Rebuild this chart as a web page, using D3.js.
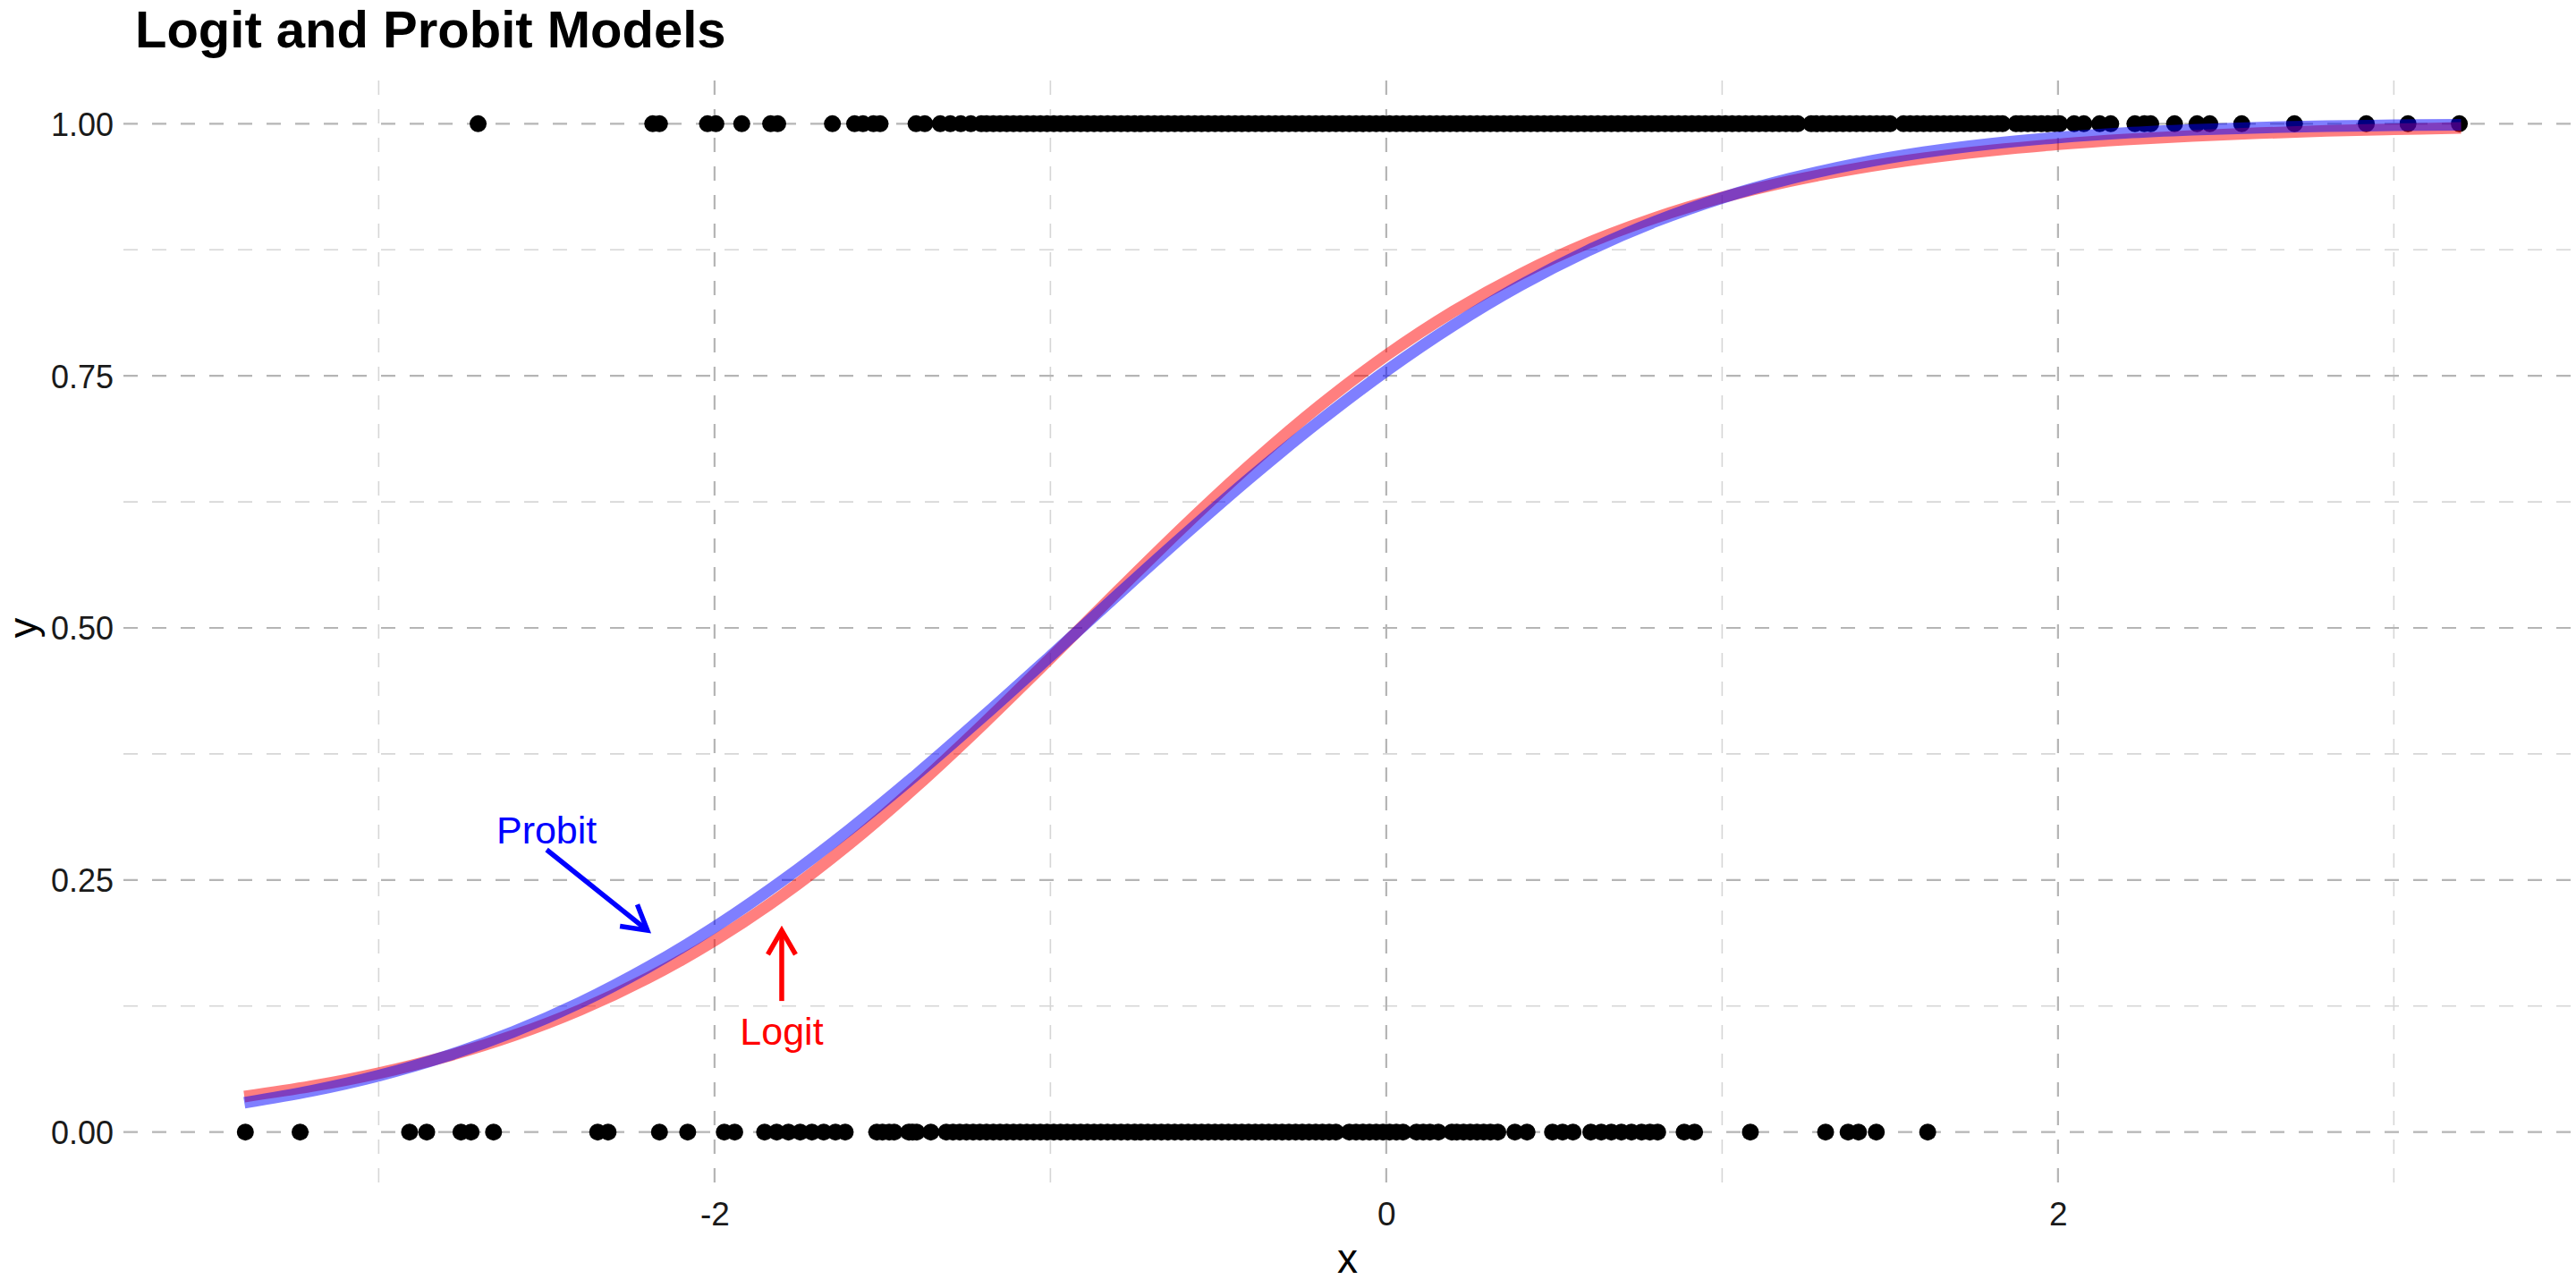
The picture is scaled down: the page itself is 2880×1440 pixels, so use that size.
<!DOCTYPE html>
<html><head><meta charset="utf-8">
<script src="https://cdn.jsdelivr.net/npm/d3@7"></script>
<style>html,body{margin:0;padding:0;background:#fff;} svg{display:block;}</style>
</head><body>
<svg id="chart" width="2880" height="1440"></svg>
<script>
// ---------------- data ----------------
const chartTitle = "Logit and Probit Models";
const xAxisTitle = "x";
const yAxisTitle = "y";
const xDomain = [-3.760, 3.529];
const yDomain = [-0.05, 1.05];
const xTicks = [-2, 0, 2];
const xTickLabels = ["-2", "0", "2"];
const xMinor = [-3, -1, 1, 3];
const yTicks = [0, 0.25, 0.5, 0.75, 1];
const yTickLabels = ["0.00", "0.25", "0.50", "0.75", "1.00"];
const yMinor = [0.125, 0.375, 0.625, 0.875];

// observed points with y = 1
const xOnes = [-2.704, -2.184, -2.164, -2.021, -1.996, -1.919, -1.833, -1.812, -1.649, -1.583, -1.558, -1.527, -1.507,
  -1.400, -1.374, -1.328, -1.298, -1.267, -1.237, -1.206,
  -1.19, -1.17, -1.15, -1.13, -1.11, -1.09, -1.07, -1.05, -1.03, -1.01, -0.99, -0.97, -0.95, -0.93, -0.91, -0.89,
  -0.87, -0.85, -0.83, -0.81, -0.79, -0.77, -0.75, -0.73, -0.71, -0.69, -0.67, -0.65, -0.63, -0.61, -0.59, -0.57,
  -0.55, -0.53, -0.51, -0.49, -0.47, -0.45, -0.43, -0.41, -0.39, -0.37, -0.35, -0.33, -0.31, -0.29, -0.27, -0.25,
  -0.23, -0.21, -0.19, -0.17, -0.15, -0.13, -0.11, -0.09, -0.07, -0.05, -0.03, -0.01, 0.01, 0.03, 0.05, 0.07, 0.09,
  0.11, 0.13, 0.15, 0.17, 0.19, 0.21, 0.23, 0.25, 0.27, 0.29, 0.31, 0.33, 0.35, 0.37, 0.39, 0.41, 0.43, 0.45, 0.47,
  0.49, 0.51, 0.53, 0.55, 0.57, 0.59, 0.61, 0.63, 0.65, 0.67, 0.69, 0.71, 0.73, 0.75, 0.77, 0.79, 0.81, 0.83, 0.85,
  0.87, 0.89, 0.91, 0.93, 0.95, 0.97, 0.99, 1.01, 1.03, 1.05, 1.07, 1.09, 1.11, 1.13, 1.15, 1.17, 1.19, 1.21, 1.225,
  1.265, 1.28, 1.30, 1.32, 1.34, 1.36, 1.38, 1.40, 1.42, 1.44, 1.46, 1.48, 1.50, 1.54, 1.56, 1.58, 1.60, 1.62, 1.64,
  1.66, 1.68, 1.70, 1.72, 1.74, 1.76, 1.78, 1.80, 1.82, 1.835, 1.875, 1.89, 1.91, 1.93, 1.95, 1.97, 1.99, 2.005,
  2.048, 2.077, 2.124, 2.157, 2.229, 2.257, 2.276, 2.347, 2.414, 2.452, 2.547, 2.704, 2.918, 3.042, 3.195];

// observed points with y = 0
const xZeros = [-3.397, -3.234, -2.908, -2.857, -2.755, -2.725, -2.658, -2.348, -2.317, -2.164, -2.080, -1.971, -1.940,
  -1.851, -1.815, -1.780, -1.745, -1.710, -1.675, -1.640, -1.611,
  -1.517, -1.50, -1.48, -1.465, -1.422, -1.41, -1.398, -1.356, -1.31, -1.29, -1.27, -1.25, -1.23, -1.21, -1.19,
  -1.17, -1.15, -1.13, -1.11, -1.09, -1.07, -1.05, -1.03, -1.01, -0.99, -0.97, -0.95, -0.93, -0.91, -0.89, -0.87,
  -0.85, -0.83, -0.81, -0.79, -0.77, -0.75, -0.73, -0.71, -0.69, -0.67, -0.65, -0.63, -0.61, -0.59, -0.57, -0.55,
  -0.53, -0.51, -0.49, -0.47, -0.45, -0.43, -0.41, -0.39, -0.37, -0.35, -0.33, -0.31, -0.29, -0.27, -0.25, -0.23,
  -0.21, -0.19, -0.17, -0.15, -0.11, -0.09, -0.07, -0.05, -0.03, -0.01, 0.01, 0.03, 0.05, 0.09, 0.11, 0.13, 0.155,
  0.195, 0.21, 0.23, 0.25, 0.27, 0.29, 0.31, 0.332,
  0.383, 0.419, 0.495, 0.525, 0.556, 0.609, 0.64, 0.67, 0.70, 0.73, 0.76, 0.785, 0.808, 0.887, 0.918, 1.084,
  1.308, 1.375, 1.406, 1.459, 1.612];

// fitted curves
const curveX = [-3.4, -3.2, -3.0, -2.8, -2.6, -2.4, -2.2, -2.0, -1.8, -1.6, -1.4, -1.2, -1.0, -0.8, -0.6, -0.4, -0.2,
  0.0, 0.2, 0.4, 0.6, 0.8, 1.0, 1.2, 1.4, 1.6, 1.8, 2.0, 2.2, 2.4, 2.6, 2.8, 3.0, 3.2];
const logitY = [0.0352, 0.0454, 0.0584, 0.0749, 0.0955, 0.1211, 0.1524, 0.1900, 0.2343, 0.2854, 0.3426, 0.4047,
  0.4700, 0.5364, 0.6016, 0.6633, 0.7199, 0.7703, 0.8139, 0.8509, 0.8816, 0.9067, 0.9269, 0.9430, 0.9557, 0.9657,
  0.9735, 0.9796, 0.9843, 0.9879, 0.9907, 0.9929, 0.9945, 0.9958];
const probitY = [0.0291, 0.0408, 0.0559, 0.0752, 0.0992, 0.1284, 0.1631, 0.2033, 0.2489, 0.2995, 0.3542, 0.4122,
  0.4721, 0.5327, 0.5925, 0.6503, 0.7047, 0.7549, 0.8001, 0.8399, 0.8741, 0.9029, 0.9265, 0.9454, 0.9603, 0.9717,
  0.9802, 0.9864, 0.9909, 0.9940, 0.9962, 0.9976, 0.9985, 0.9991];

// annotations
const annLabels = ["Probit", "Logit"];
const annColors = ["#0000FF", "#FF0000"];
const annTextX = [-2.5, -1.8];
const annTextY = [0.30, 0.10];
const annArrowFrom = [[-2.5, 0.28], [-1.8, 0.13]];
const annArrowTo = [[-2.2, 0.20], [-1.8, 0.20]];

// ---------------- drawing ----------------
const svg = d3.select("#chart");
const W = 2880, H = 1440;
const panel = {left: 138, right: 2875, top: 82, bottom: 1322};
const font = "'Liberation Sans', Arial, Helvetica, sans-serif";

const x = d3.scaleLinear().domain(xDomain).range([panel.left, panel.right]);
const y = d3.scaleLinear().domain(yDomain).range([panel.bottom, panel.top]);

svg.append("rect").attr("width", W).attr("height", H).attr("fill", "#fff");

// grid
const grid = svg.append("g");
grid.selectAll(".vmin").data(xMinor).join("line")
  .attr("x1", d => x(d)).attr("x2", d => x(d)).attr("y1", panel.bottom).attr("y2", panel.top)
  .attr("stroke", "#d6d6d6").attr("stroke-width", 1.6).attr("stroke-dasharray", "16,16");
grid.selectAll(".hmin").data(yMinor).join("line")
  .attr("y1", d => y(d)).attr("y2", d => y(d)).attr("x1", panel.left).attr("x2", panel.right)
  .attr("stroke", "#d6d6d6").attr("stroke-width", 1.6).attr("stroke-dasharray", "16,16");
grid.selectAll(".vmaj").data(xTicks).join("line")
  .attr("x1", d => x(d)).attr("x2", d => x(d)).attr("y1", panel.bottom).attr("y2", panel.top)
  .attr("stroke", "#b5b5b5").attr("stroke-width", 2.2).attr("stroke-dasharray", "16,16");
grid.selectAll(".hmaj").data(yTicks).join("line")
  .attr("y1", d => y(d)).attr("y2", d => y(d)).attr("x1", panel.left).attr("x2", panel.right)
  .attr("stroke", "#b5b5b5").attr("stroke-width", 2.2).attr("stroke-dasharray", "16,16");

// axes (labels only, like theme_minimal)
const xAxis = d3.axisBottom(x).tickValues(xTicks).tickFormat((d, i) => xTickLabels[i]).tickSize(0).tickPadding(0);
const gx = svg.append("g").attr("transform", `translate(0,${panel.bottom})`).call(xAxis);
gx.select(".domain").remove();
gx.selectAll("text").attr("font-family", font).attr("font-size", 37).attr("fill", "#1a1a1a")
  .attr("dy", null).attr("y", 48);

const yAxis = d3.axisLeft(y).tickValues(yTicks).tickFormat((d, i) => yTickLabels[i]).tickSize(0).tickPadding(0);
const gy = svg.append("g").attr("transform", `translate(${panel.left - 11},0)`).call(yAxis);
gy.select(".domain").remove();
gy.selectAll("text").attr("font-family", font).attr("font-size", 36).attr("fill", "#1a1a1a")
  .attr("dy", "0.36em").attr("x", 0);

// points
const pts = svg.append("g");
pts.selectAll(".p1").data(xOnes).join("circle")
  .attr("cx", d => x(d)).attr("cy", y(1)).attr("r", 9.5).attr("fill", "#000");
pts.selectAll(".p0").data(xZeros).join("circle")
  .attr("cx", d => x(d)).attr("cy", y(0)).attr("r", 9.5).attr("fill", "#000");

// curves
const line = d3.line().curve(d3.curveCatmullRom.alpha(0.5)).x(d => x(d[0])).y(d => y(d[1]));
svg.append("path").datum(curveX.map((v, i) => [v, logitY[i]]))
  .attr("d", line).attr("fill", "none").attr("stroke", "#FF0000").attr("stroke-opacity", 0.5)
  .attr("stroke-width", 13).attr("stroke-linecap", "butt");
svg.append("path").datum(curveX.map((v, i) => [v, probitY[i]]))
  .attr("d", line).attr("fill", "none").attr("stroke", "#0000FF").attr("stroke-opacity", 0.5)
  .attr("stroke-width", 13).attr("stroke-linecap", "butt");

// annotations
const ann = svg.append("g");
annLabels.forEach((lab, i) => {
  const col = annColors[i];
  ann.append("text").attr("x", x(annTextX[i])).attr("y", y(annTextY[i])).attr("dy", "0.35em")
    .attr("text-anchor", "middle").attr("font-family", font).attr("font-size", 43).attr("fill", col).text(lab);
  const x0 = x(annArrowFrom[i][0]), y0 = y(annArrowFrom[i][1]);
  const x1 = x(annArrowTo[i][0]), y1 = y(annArrowTo[i][1]);
  ann.append("line").attr("x1", x0).attr("y1", y0).attr("x2", x1).attr("y2", y1)
    .attr("stroke", col).attr("stroke-width", 5.5);
  const ang = Math.atan2(y1 - y0, x1 - x0), L = 31, a = Math.PI / 6;
  const p1 = [x1 - L * Math.cos(ang - a), y1 - L * Math.sin(ang - a)];
  const p2 = [x1 - L * Math.cos(ang + a), y1 - L * Math.sin(ang + a)];
  ann.append("path").attr("d", `M${p1[0]},${p1[1]}L${x1},${y1}L${p2[0]},${p2[1]}`)
    .attr("fill", "none").attr("stroke", col).attr("stroke-width", 5.5)
    .attr("stroke-linejoin", "miter").attr("stroke-linecap", "butt");
});

// titles
svg.append("text").attr("x", 151).attr("y", 53).attr("font-family", font).attr("font-weight", "bold")
  .attr("font-size", 58).attr("fill", "#000").text(chartTitle);
svg.append("text").attr("x", (panel.left + panel.right) / 2).attr("y", 1423).attr("text-anchor", "middle")
  .attr("font-family", font).attr("font-size", 46).attr("fill", "#000").text(xAxisTitle);
svg.append("text").attr("transform", `translate(41,${(panel.top + panel.bottom) / 2}) rotate(-90)`)
  .attr("text-anchor", "middle").attr("font-family", font).attr("font-size", 45).attr("fill", "#000").text(yAxisTitle);
</script>
</body></html>
